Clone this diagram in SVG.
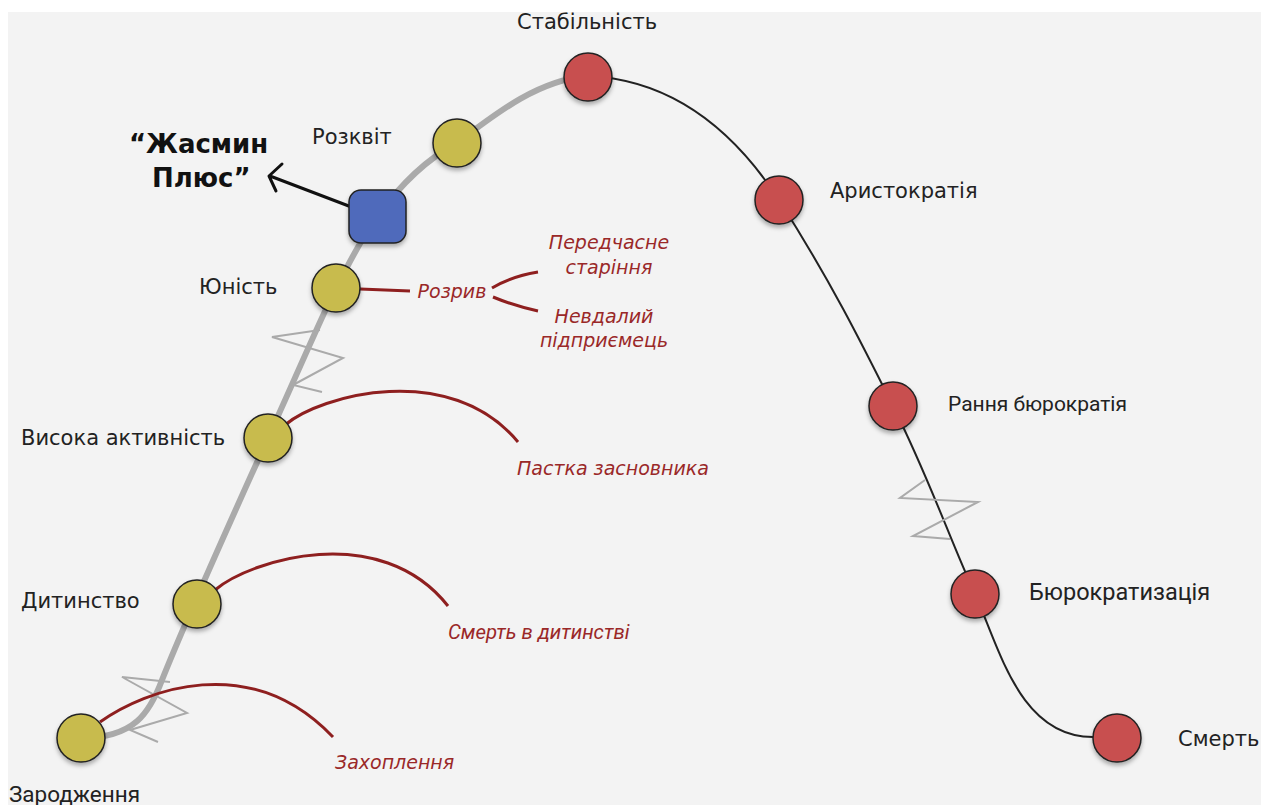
<svg xmlns="http://www.w3.org/2000/svg" width="1275" height="805" viewBox="0 0 1275 805">
<style>
.lbl{font-family:Roboto,"Liberation Sans",Arial,sans-serif;font-size:22.5px;fill:#222}
.lw{font-family:"DejaVu Sans",sans-serif;font-size:21px;fill:#222}
.red{font-family:"DejaVu Sans",sans-serif;font-size:19px;font-style:italic;fill:#9a2828}
.red2{font-family:Roboto,"Liberation Sans",Arial,sans-serif;font-size:20.4px;font-style:italic;fill:#9a2828}
.bold{font-family:"DejaVu Sans",sans-serif;font-size:26px;font-weight:bold;fill:#111}
.y{fill:#c8bb4e;stroke:#222;stroke-width:1.5}
.r{fill:#c85050;stroke:#222;stroke-width:1.5}
.b{fill:#4f6abb;stroke:#222;stroke-width:1.5}
.rc{fill:none;stroke:#8e1f1f;stroke-width:3}
.zz{fill:none;stroke:#aaa;stroke-width:2}
</style>
<defs>
<filter id="sh" x="-30%" y="-30%" width="160%" height="170%">
<feDropShadow dx="0" dy="3" stdDeviation="2" flood-color="#000" flood-opacity="0.3"/>
</filter>
</defs>
<rect x="0" y="0" width="1275" height="805" fill="#fff"/>
<rect x="8" y="12" width="1253" height="793" fill="#f3f3f3"/>
<g id="connectors">
<path d="M81,738 C135,738 150,712 162,680 C190,610 240,500 268,438 C290,390 320,320 336,288 C350,262 360,240 377,217 C400,185 425,160 457,143 C500,110 540,80 588,76" fill="none" stroke="#aaa" stroke-width="6"/>
<path d="M588,76 C680,80 740,140 779,200 C830,280 860,340 893,406 C930,480 950,540 975,594 C1000,650 1020,737 1093,737 L1117,738" fill="none" stroke="#222" stroke-width="2"/>
<polyline class="zz" points="320,330 272,337 343,358 293,385 322,392"/>
<polyline class="zz" points="170,682 122,677 187,713 130,730 158,742"/>
<polyline class="zz" points="925,480 900,498 978,502 913,536 950,539"/>
<path class="rc" d="M100,722 C145,690 250,650 333,737"/>
<path class="rc" d="M215,590 C250,560 380,520 448,606"/>
<path class="rc" d="M285,425 C320,395 450,360 518,442"/>
<path class="rc" d="M360,289 L410,291"/>
<path class="rc" d="M492,288 C505,280 520,275 538,272"/>
<path class="rc" d="M493,297 C505,302 520,307 538,311"/>
<path d="M375,216 L270,176 M282,164 L269,176 L276,191" fill="none" stroke="#111" stroke-width="3" stroke-linecap="round" stroke-linejoin="round"/>
</g>
<g id="n-zarodzhennia"><circle class="y" cx="81" cy="738" r="24" filter="url(#sh)"/><text class="lbl" x="9" y="802">Зародження</text></g>
<g id="n-dytynstvo"><circle class="y" cx="197" cy="604" r="24" filter="url(#sh)"/><text class="lw" x="21" y="608">Дитинство</text></g>
<g id="n-vysoka"><circle class="y" cx="268" cy="438" r="24" filter="url(#sh)"/><text class="lw" x="21" y="445">Висока активність</text></g>
<g id="n-yunist"><circle class="y" cx="336" cy="288" r="24" filter="url(#sh)"/><text class="lw" x="199" y="294">Юність</text></g>
<g id="n-jasmin"><rect class="b" x="349" y="190" width="57" height="53" rx="12" filter="url(#sh)"/><text class="bold" x="129" y="153">“Жасмин</text><text class="bold" x="152" y="187">Плюс”</text></g>
<g id="n-rozkvit"><circle class="y" cx="457" cy="143" r="24" filter="url(#sh)"/><text class="lw" x="312" y="144">Розквіт</text></g>
<g id="n-stabilnist"><circle class="r" cx="588" cy="77" r="24" filter="url(#sh)"/><text class="lw" x="517" y="29">Стабільність</text></g>
<g id="n-aristokratiia"><circle class="r" cx="779" cy="200" r="24" filter="url(#sh)"/><text class="lw" x="830" y="198">Аристократія</text></g>
<g id="n-rannia"><circle class="r" cx="893" cy="406" r="24" filter="url(#sh)"/><text class="lbl" x="948" y="411" style="font-size:21px">Рання бюрократія</text></g>
<g id="n-biurokratyzatsiia"><circle class="r" cx="975" cy="594" r="24" filter="url(#sh)"/><text class="lbl" x="1029" y="600" style="font-size:23.5px">Бюрократизація</text></g>
<g id="n-smert"><circle class="r" cx="1117" cy="738" r="24" filter="url(#sh)"/><text class="lw" x="1178" y="746">Смерть</text></g>
<g id="red-labels">
<text class="red" x="452" y="298" text-anchor="middle">Розрив</text>
<text class="red" x="609" y="249" text-anchor="middle">Передчасне</text>
<text class="red" x="609" y="274" text-anchor="middle">старіння</text>
<text class="red" x="604" y="323" text-anchor="middle">Невдалий</text>
<text class="red" x="604" y="347" text-anchor="middle">підприємець</text>
<text class="red" x="517" y="475">Пастка засновника</text>
<text class="red2" x="448" y="639">Смерть в дитинстві</text>
<text class="red" x="335" y="769">Захоплення</text>
</g>
</svg>
